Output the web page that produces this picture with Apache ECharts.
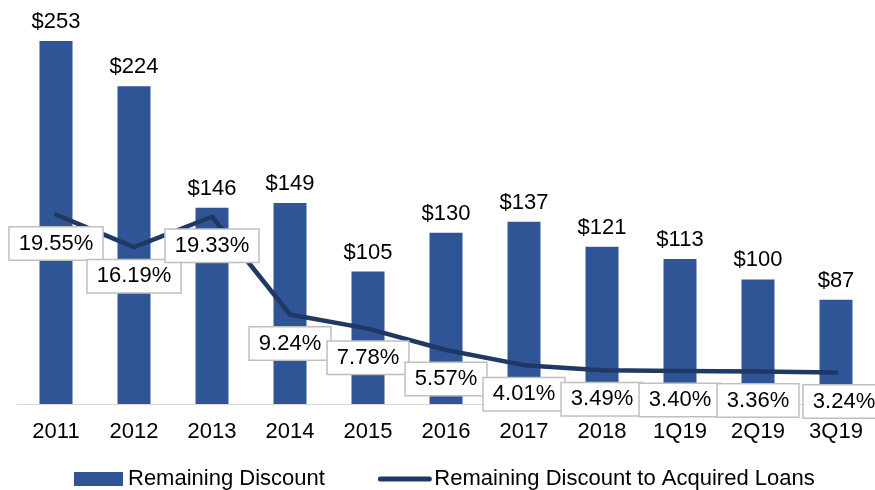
<!DOCTYPE html>
<html>
<head>
<meta charset="utf-8">
<script src="https://cdn.jsdelivr.net/npm/echarts@6/dist/echarts.min.js"></script>
<style>
  html, body { margin: 0; padding: 0; background: #fff; }
  #main { width: 875px; height: 490px; }
</style>
</head>
<body>
<div id="main"></div>
<script>
// categories and values
var periods = ['2011', '2012', '2013', '2014', '2015', '2016', '2017', '2018', '1Q19', '2Q19', '3Q19'];
var remainingDiscount = [253, 224, 146, 149, 105, 130, 137, 121, 113, 100, 87];
var discountToLoans = [19.55, 16.19, 19.33, 9.24, 7.78, 5.57, 4.01, 3.49, 3.40, 3.36, 3.24];

var font = 'Liberation Sans, Arial, sans-serif';

// last box is nudged right like in the original
var labelPoints = discountToLoans.map(function (v, i) {
    if (i === discountToLoans.length - 1) {
        return { value: v, label: { offset: [8, 0] } };
    }
    return v;
});

var myChart = echarts.init(document.getElementById('main'));

var option = {
    animation: false,
    textStyle: { fontFamily: font },
    grid: { left: 17, top: 20, width: 863, height: 384 },
    legend: {
        top: 468,
        left: 74,
        padding: 0,
        itemWidth: 49,
        itemHeight: 14,
        itemGap: 53,
        textStyle: { fontSize: 22, color: '#000', fontFamily: font },
        data: [
            { name: 'Remaining Discount', icon: 'rect' },
            {
                name: 'Remaining Discount to Acquired Loans',
                itemStyle: { opacity: 0 },
                lineStyle: { width: 5, color: '#203864', cap: 'round' }
            }
        ]
    },
    xAxis: {
        type: 'category',
        data: periods,
        axisTick: { show: false },
        axisLine: { lineStyle: { color: '#D9D9D9', width: 1 } },
        axisLabel: { color: '#000', fontSize: 22, margin: 17, fontFamily: font }
    },
    yAxis: [
        { type: 'value', min: 20, max: 266.5, show: false },
        { type: 'value', min: 0, max: 39.64, show: false }
    ],
    series: [
        {
            name: 'Remaining Discount',
            type: 'bar',
            data: remainingDiscount,
            barWidth: 33,
            itemStyle: { color: '#2F5597' },
            label: {
                show: true,
                position: 'top',
                distance: 8,
                formatter: '${c}',
                color: '#000',
                fontSize: 22,
                fontFamily: font
            }
        },
        {
            name: 'Remaining Discount to Acquired Loans',
            type: 'line',
            yAxisIndex: 1,
            data: discountToLoans,
            symbol: 'none',
            lineStyle: { color: '#203864', width: 4.5, join: 'round', cap: 'round' },
            itemStyle: { color: '#203864' },
            z: 3
        },
        {
            // invisible points that only carry the boxed percent labels
            name: 'labels',
            type: 'scatter',
            yAxisIndex: 1,
            data: labelPoints,
            symbolSize: 0,
            z: 4,
            itemStyle: { opacity: 1, color: '#203864' },
            emphasis: { disabled: true },
            label: {
                show: true,
                position: 'bottom',
                distance: 13,
                formatter: function (p) { return p.value.toFixed(2) + '%'; },
                color: '#000',
                fontSize: 22,
                fontFamily: font,
                backgroundColor: '#fff',
                borderColor: '#BFBFBF',
                borderWidth: 1.5,
                padding: [5, 9]
            }
        }
    ]
};

myChart.setOption(option);
</script>
</body>
</html>
